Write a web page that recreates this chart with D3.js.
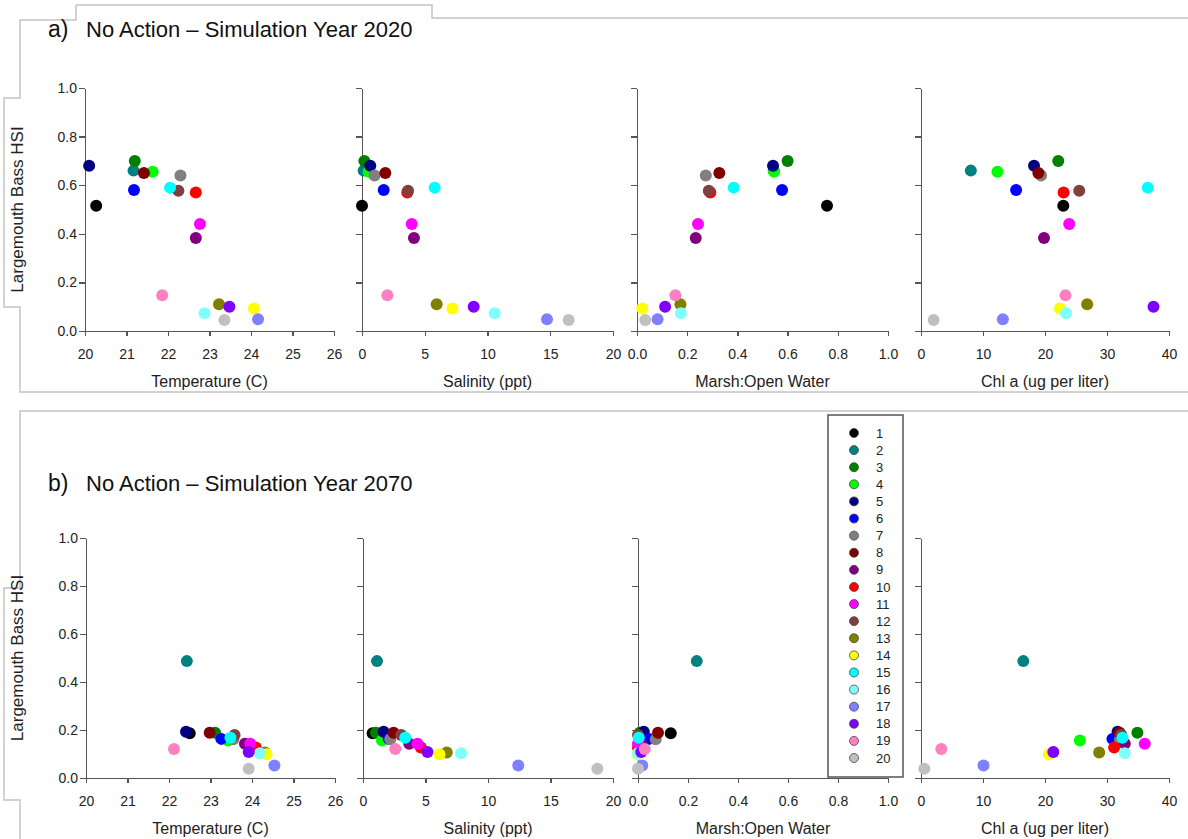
<!DOCTYPE html>
<html>
<head>
<meta charset="utf-8">
<script src="https://cdn.jsdelivr.net/npm/d3@7"></script>
<style>
  body { margin: 0; background: #fff; }
  svg { font-family: "Liberation Sans", Arial, sans-serif; }
  .axis path, .axis line { stroke: #555; stroke-width: 1.3; shape-rendering: crispEdges; }
  .axis text { fill: #222; font-size: 14px; }
  .frame { fill: none; stroke: #c4c4c4; stroke-width: 1.5; }
</style>
</head>
<body>
<div id="chart"></div>
<script>
// sites 1..20 and their marker colours
var sites  = d3.range(1, 21);
var colors = ["#000000", "#008080", "#008000", "#00ff00", "#000080", "#0000ff", "#808080", "#800000",
              "#800080", "#ff0000", "#ff00ff", "#804040", "#808000", "#ffff00", "#00ffff", "#80ffff",
              "#8080ff", "#8000ff", "#ff80c0", "#c0c0c0"];

// a) 2020
var hsi2020   = [0.515, 0.66, 0.70, 0.655, 0.68, 0.58, 0.64, 0.65, 0.383, 0.57, 0.44, 0.577, 0.11, 0.093, 0.59, 0.073, 0.048, 0.10, 0.147, 0.045];
var temp2020  = [20.27, 21.17, 21.2, 21.63, 20.1, 21.18, 22.3, 21.42, 22.67, 22.67, 22.77, 22.25, 23.23, 24.07, 22.05, 22.88, 24.17, 23.48, 21.86, 23.36];
var sal2020   = [0.0, 0.13, 0.19, 0.53, 0.66, 1.73, 1.0, 1.86, 4.14, 3.61, 3.96, 3.67, 5.95, 7.2, 5.79, 10.57, 14.74, 8.9, 2.02, 16.47];
var marsh2020 = [0.757, 0.545, 0.60, 0.546, 0.542, 0.578, 0.274, 0.328, 0.234, 0.292, 0.243, 0.286, 0.173, 0.021, 0.385, 0.175, 0.082, 0.112, 0.153, 0.033];
var chl2020   = [22.95, 8.04, 22.14, 12.33, 18.23, 15.34, 19.36, 18.93, 19.84, 23.0, 23.9, 25.52, 26.8, 22.4, 36.57, 23.4, 13.2, 37.5, 23.3, 2.04];

// b) 2070
var hsi2070   = [0.186, 0.487, 0.189, 0.156, 0.193, 0.163, 0.161, 0.189, 0.143, 0.127, 0.143, 0.179, 0.106, 0.099, 0.168, 0.103, 0.052, 0.108, 0.121, 0.039];
var temp2070  = [22.5, 22.43, 23.11, 23.42, 22.41, 23.26, 23.55, 22.98, 23.83, 24.09, 23.96, 23.58, 24.31, 24.35, 23.48, 24.19, 24.54, 23.92, 22.12, 23.92];
var sal2070   = [0.77, 1.12, 1.04, 1.52, 1.65, 2.05, 2.18, 2.45, 3.7, 4.63, 4.36, 3.06, 6.7, 6.12, 3.38, 7.85, 12.42, 5.16, 2.58, 18.75];
var marsh2070 = [0.131, 0.235, 0.007, 0.007, 0.023, 0.044, 0.071, 0.08, 0.013, 0.0, 0.0, 0.0, 0.003, 0.0, 0.003, 0.0, 0.017, 0.013, 0.027, 0.0];
var chl2070   = [32.06, 16.5, 34.9, 25.63, 31.7, 30.88, 32.1, 32.0, 32.87, 31.15, 36.09, 32.3, 28.74, 20.64, 32.5, 32.87, 10.08, 21.34, 3.27, 0.54];

var xTitles = ["Temperature (C)", "Salinity (ppt)", "Marsh:Open Water", "Chl a (ug per liter)"];
var xDomains = [[20, 26], [0, 20], [0, 1], [0, 40]];
var xTicks = [d3.range(20, 27, 1), [0, 5, 10, 15, 20], [0, 0.2, 0.4, 0.6, 0.8, 1.0], [0, 10, 20, 30, 40]];
var xFormats = [d3.format("d"), d3.format("d"), d3.format(".1f"), d3.format("d")];
var yTicks = [0, 0.2, 0.4, 0.6, 0.8, 1.0];

var W = 1188, H = 839;
var svg = d3.select("#chart").append("svg")
    .attr("width", W)
    .attr("height", H);

// the grey outline frames around both panels
var frameA = [[76,5],[432,5],[432,18],[1190,18],[1190,392],[20,392],[20,307],[4,307],[4,98],[20,98],[20,20],[76,20],[76,5]];
var frameB = [[1190,411],[20,411],[20,588],[4,588],[4,800],[20,800],[20,842]];
svg.append("path").attr("class", "frame").attr("d", d3.line()(frameA));
svg.append("path").attr("class", "frame").attr("d", d3.line()(frameB));

function panel(cfg) {
    var y = d3.scaleLinear().domain([0, 1]).range([cfg.yBottom, cfg.yTop]);

    svg.append("text")
        .attr("x", 48).attr("y", cfg.titleY)
        .style("font-size", "23px").style("fill", "#111")
        .text(cfg.tag);
    svg.append("text")
        .attr("x", 86).attr("y", cfg.titleY)
        .style("font-size", "22px").style("fill", "#111")
        .text(cfg.title);

    svg.append("text")
        .attr("transform", "translate(" + 23 + "," + ((cfg.yTop + cfg.yBottom) / 2) + ") rotate(-90)")
        .attr("text-anchor", "middle")
        .style("font-size", "17px").style("fill", "#222")
        .text("Largemouth Bass HSI");

    cfg.xVals.forEach(function(vals, k) {
        var x = d3.scaleLinear().domain(xDomains[k]).range(cfg.xRanges[k]);

        var xAxis = d3.axisBottom(x)
            .tickValues(xTicks[k])
            .tickFormat(xFormats[k])
            .tickSizeInner(5).tickSizeOuter(0).tickPadding(13);
        svg.append("g")
            .attr("class", "axis")
            .attr("transform", "translate(0," + cfg.yBottom + ")")
            .call(xAxis);

        var yAxis = d3.axisLeft(y)
            .tickValues(yTicks)
            .tickSizeInner(6).tickSizeOuter(0).tickPadding(2)
            .tickFormat(k === 0 ? d3.format(".1f") : "");
        svg.append("g")
            .attr("class", "axis")
            .attr("transform", "translate(" + cfg.xRanges[k][0] + ",0)")
            .call(yAxis);

        svg.append("text")
            .attr("x", (cfg.xRanges[k][0] + cfg.xRanges[k][1]) / 2)
            .attr("y", cfg.yBottom + 56)
            .attr("text-anchor", "middle")
            .style("font-size", "16px").style("fill", "#222")
            .text(xTitles[k]);

        svg.append("g")
          .selectAll("circle")
            .data(sites)
          .enter().append("circle")
            .attr("cx", function(d, i) { return x(vals[i]); })
            .attr("cy", function(d, i) { return y(cfg.hsi[i]); })
            .attr("r", 6)
            .style("fill", function(d, i) { return colors[i]; });
    });
}

panel({
    tag: "a)", title: "No Action \u2013 Simulation Year 2020", titleY: 37,
    yTop: 88, yBottom: 331,
    xRanges: [[85, 334], [362, 613], [637, 888], [921, 1169]],
    hsi: hsi2020, xVals: [temp2020, sal2020, marsh2020, chl2020]
});

panel({
    tag: "b)", title: "No Action \u2013 Simulation Year 2070", titleY: 491,
    yTop: 538, yBottom: 778,
    xRanges: [[86, 335], [363, 613], [638, 888], [921, 1169]],
    hsi: hsi2070, xVals: [temp2070, sal2070, marsh2070, chl2070]
});

// legend box
var legend = svg.append("g");
legend.append("rect")
    .attr("x", 828).attr("y", 415)
    .attr("width", 75).attr("height", 362)
    .style("fill", "#fff").style("stroke", "#555").style("stroke-width", 1.5);

var ly = d3.scaleLinear().domain([1, 20]).range([433, 758]);
var item = legend.selectAll(".item")
    .data(sites)
  .enter().append("g")
    .attr("class", "item")
    .attr("transform", function(d) { return "translate(0," + ly(d) + ")"; });
item.append("circle")
    .attr("cx", 854).attr("r", 4.5)
    .style("fill", function(d, i) { return colors[i]; })
    .style("stroke", "#444").style("stroke-width", 0.8);
item.append("text")
    .attr("x", 876).attr("dy", "0.35em")
    .style("font-size", "13px").style("fill", "#222")
    .text(function(d) { return d; });
</script>
</body>
</html>
